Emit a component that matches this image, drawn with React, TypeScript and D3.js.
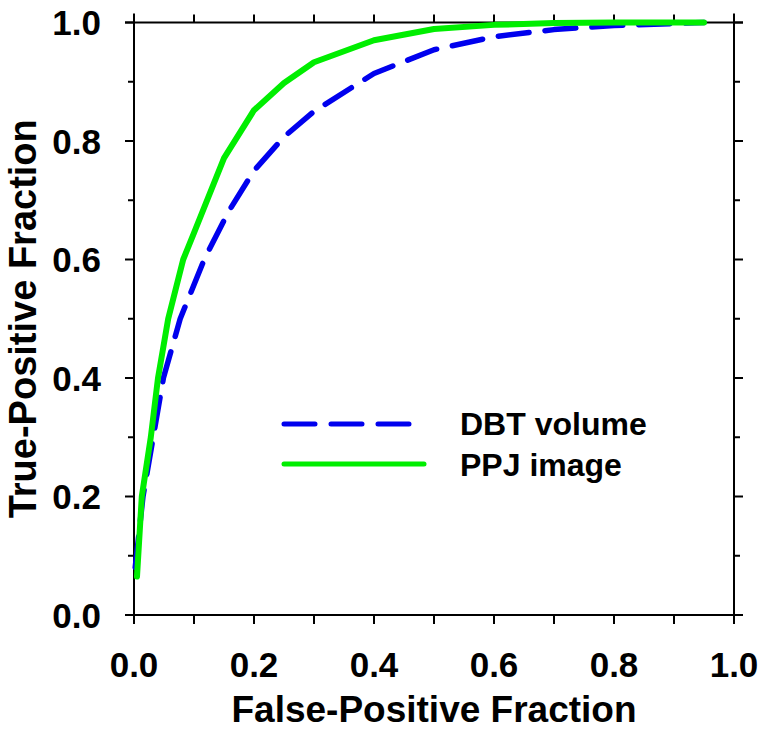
import React from 'react';
import * as d3 from 'd3';

// ROC curve points
const dbtFpf = [0.002, 0.015, 0.032, 0.049, 0.077, 0.117, 0.157, 0.2, 0.25, 0.3, 0.4, 0.5, 0.6, 0.7, 0.8, 0.95];
const dbtTpf = [0.08, 0.2, 0.3, 0.4, 0.5, 0.6, 0.68, 0.75, 0.807, 0.85, 0.914, 0.954, 0.976, 0.988, 0.995, 1.0];

const ppjFpf = [0.005, 0.013, 0.028, 0.04, 0.057, 0.082, 0.1, 0.15, 0.2, 0.25, 0.3, 0.4, 0.5, 0.6, 0.7, 0.8, 0.95];
const ppjTpf = [0.065, 0.2, 0.3, 0.4, 0.5, 0.6, 0.645, 0.771, 0.852, 0.898, 0.933, 0.970, 0.989, 0.996, 0.999, 1.0, 1.0];

const tickValues = [0, 0.1, 0.2, 0.3, 0.4, 0.5, 0.6, 0.7, 0.8, 0.9, 1.0];
const labelValues = [0, 0.2, 0.4, 0.6, 0.8, 1.0];

const seriesNames = ['DBT volume', 'PPJ image'];
const seriesColors = ['#0000ee', '#00ee00'];

const W = 769;
const H = 732;
const left = 134;
const right = 734;
const top = 22.5;
const bottom = 615;
const font = '"Liberation Sans", Arial, Helvetica, sans-serif';

export default function App() {
  const x = d3.scaleLinear().domain([0, 1]).range([left, right]);
  const y = d3.scaleLinear().domain([0, 1]).range([bottom, top]);

  const line = d3.line<[number, number]>()
    .x(d => x(d[0]))
    .y(d => y(d[1]));

  const dbt = dbtFpf.map((v, i) => [v, dbtTpf[i]] as [number, number]);
  const ppj = ppjFpf.map((v, i) => [v, ppjTpf[i]] as [number, number]);

  const isMajor = (v: number) => labelValues.some(l => Math.abs(l - v) < 1e-9);

  return (
    <div style={{ position: 'absolute', left: 0, top: 0 }}>
      <svg width={W} height={H} style={{ display: 'block', background: '#fff' }}>
        {/* frame */}
        <g stroke="#000" strokeWidth={2} fill="none">
          <line x1={left - 9} x2={right + 9} y1={bottom} y2={bottom} />
          <line x1={left - 9} x2={right + 9} y1={top} y2={top} />
          <line x1={left} x2={left} y1={top - 9} y2={bottom + 9} />
          <line x1={right} x2={right} y1={top - 9} y2={bottom + 9} />
          {tickValues.map(v => (
            <g key={'t' + v}>
              <line x1={x(v)} x2={x(v)} y1={bottom} y2={bottom + 9} />
              <line x1={x(v)} x2={x(v)} y1={top} y2={top - 8} />
              <line x1={left} x2={left - (isMajor(v) ? 9 : 6)} y1={y(v)} y2={y(v)} />
              <line x1={right} x2={right + (isMajor(v) ? 9 : 6)} y1={y(v)} y2={y(v)} />
            </g>
          ))}
        </g>

        {/* tick labels */}
        <g fontFamily={font} fontWeight="bold" fontSize={35} fill="#000">
          {labelValues.map(v => (
            <text key={'xl' + v} x={x(v)} y={677} textAnchor="middle">{v.toFixed(1)}</text>
          ))}
          {labelValues.map(v => (
            <text key={'yl' + v} x={101} y={y(v)} dy="0.36em" textAnchor="end">{v.toFixed(1)}</text>
          ))}
        </g>

        {/* axis titles */}
        <text x={(left + right) / 2} y={722} textAnchor="middle" fontFamily={font}
          fontWeight="bold" fontSize={37}>False-Positive Fraction</text>
        <text transform={`translate(36,${(top + bottom) / 2}) rotate(-90)`} textAnchor="middle"
          fontFamily={font} fontWeight="bold" fontSize={38}>True-Positive Fraction</text>

        {/* curves */}
        <path d={line(dbt) || ''} fill="none" stroke={seriesColors[0]} strokeWidth={5.5}
          strokeDasharray="31 16" strokeLinecap="round" strokeLinejoin="round" />
        <path d={line(ppj) || ''} fill="none" stroke={seriesColors[1]} strokeWidth={6}
          strokeLinecap="round" strokeLinejoin="round" />

        {/* legend */}
        <g>
          <line x1={284} x2={410} y1={424} y2={424} stroke={seriesColors[0]} strokeWidth={5}
            strokeDasharray="31 16" strokeLinecap="round" />
          <line x1={284} x2={424} y1={464} y2={464} stroke={seriesColors[1]} strokeWidth={5}
            strokeLinecap="round" />
          <text x={460} y={435} fontFamily={font} fontWeight="bold" fontSize={32}>{seriesNames[0]}</text>
          <text x={460} y={476} fontFamily={font} fontWeight="bold" fontSize={32}>{seriesNames[1]}</text>
        </g>
      </svg>
    </div>
  );
}
